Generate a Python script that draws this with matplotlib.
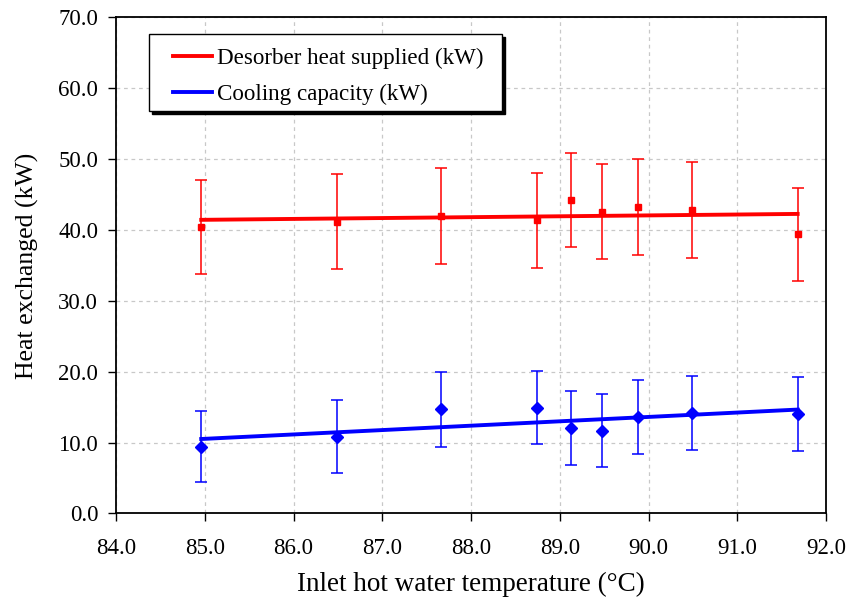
import numpy as np
import matplotlib
matplotlib.use("Agg")
from matplotlib import pyplot as plt
from matplotlib.patches import Rectangle
from matplotlib.transforms import offset_copy

# inlet hot water temperature (°C)
temps = [84.96, 86.49, 87.66, 88.74, 89.13, 89.48, 89.88, 90.49, 91.68]

desorber_heat = [40.45, 41.16, 41.96, 41.35, 44.27, 42.57, 43.24, 42.8, 39.4]
desorber_err = [6.6, 6.7, 6.75, 6.75, 6.6, 6.7, 6.8, 6.8, 6.6]

cooling_cap = [9.4, 10.85, 14.7, 14.95, 12.1, 11.7, 13.6, 14.2, 14.05]
cooling_err = [5.0, 5.1, 5.3, 5.2, 5.2, 5.2, 5.2, 5.2, 5.2]


def main():
    plt.rcParams["font.family"] = ["Liberation Serif", "DejaVu Serif"]

    fig = plt.figure(figsize=(8.5, 6.01), dpi=100)
    ax = fig.add_axes([0.1365, 0.1456, 0.8353, 0.8253])

    x = np.array(temps)

    ax.errorbar(x, desorber_heat, yerr=desorber_err, fmt="s", color="red",
                markersize=4.5, capsize=4.3, elinewidth=1.1, capthick=1.1, zorder=3)
    ax.errorbar(x, cooling_cap, yerr=cooling_err, fmt="D", color="blue",
                markersize=6, capsize=4.3, elinewidth=1.1, capthick=1.1, zorder=3)

    # linear trend lines
    xx = np.array([x.min(), x.max()])
    p_red = np.polyfit(x, desorber_heat, 1)
    p_blue = np.polyfit(x, cooling_cap, 1)
    ax.plot(xx, np.polyval(p_red, xx), color="red", lw=2.8, zorder=4,
            label="Desorber heat supplied (kW)")
    ax.plot(xx, np.polyval(p_blue, xx), color="blue", lw=2.8, zorder=4,
            label="Cooling capacity (kW)")

    ax.set_xlim(84, 92)
    ax.set_ylim(0, 70)
    ax.set_xticks(np.arange(84, 92.1, 1))
    ax.set_yticks(np.arange(0, 70.1, 10))
    ax.xaxis.set_major_formatter(matplotlib.ticker.FormatStrFormatter("%.1f"))
    ax.yaxis.set_major_formatter(matplotlib.ticker.FormatStrFormatter("%.1f"))
    ax.tick_params(labelsize=16.5, direction="out", length=5.8, width=1)
    ax.tick_params(axis="x", pad=12)
    ax.tick_params(axis="y", pad=7)
    ax.grid(True, color="#c8c8c8", linestyle=(0, (3, 3)), linewidth=0.9)
    ax.set_axisbelow(True)
    for s in ax.spines.values():
        s.set_linewidth(1.3)

    ax.set_xlabel("Inlet hot water temperature (°C)", fontsize=19.5, labelpad=9)
    ax.set_ylabel("Heat exchanged (kW)", fontsize=18.5, labelpad=14)

    # legend box with solid black shadow, drawn separately
    box = (0.0465, 0.8115)
    bw, bh = 0.4972, 0.1552
    shadow_tr = offset_copy(ax.transAxes, fig=fig, x=3, y=-3, units="dots")
    ax.add_patch(Rectangle(box, bw, bh, transform=shadow_tr, facecolor="black",
                           edgecolor="black", zorder=6))
    ax.add_patch(Rectangle(box, bw, bh, transform=ax.transAxes, facecolor="white",
                           edgecolor="black", linewidth=1.0, zorder=7))

    leg = ax.legend(loc="upper left", bbox_to_anchor=(0.0803, 0.938), borderaxespad=0,
                    fontsize=16.6, frameon=False, borderpad=0,
                    handlelength=1.7, handletextpad=0.22, labelspacing=0.62)
    leg.set_zorder(8)

    fig.savefig("out.png", dpi=100)
    plt.close(fig)


if __name__ == "__main__":
    main()
